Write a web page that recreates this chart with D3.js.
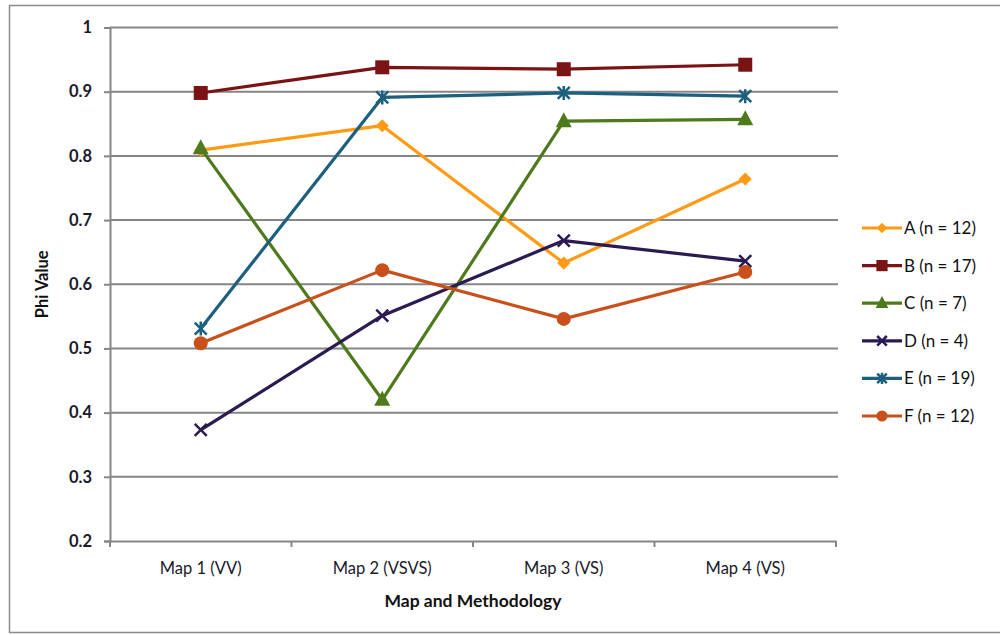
<!DOCTYPE html>
<html>
<head>
<meta charset="utf-8">
<script src="https://cdn.jsdelivr.net/npm/d3@7"></script>
<style>
  html, body { margin: 0; padding: 0; background: #fff; }
  svg { display: block; font-family: Lato, "Open Sans", sans-serif; }
</style>
</head>
<body>
<svg id="chart" width="1000" height="635"></svg>
<script>
// Phi values per map / methodology
const categories = ["Map 1 (VV)", "Map 2 (VSVS)", "Map 3 (VS)", "Map 4 (VS)"];
const seriesNames = ["A (n = 12)", "B (n = 17)", "C (n = 7)", "D (n = 4)", "E (n = 19)", "F (n = 12)"];
const valuesA = [0.809, 0.847, 0.633, 0.764];
const valuesB = [0.898, 0.938, 0.935, 0.942];
const valuesC = [0.812, 0.420, 0.854, 0.857];
const valuesD = [0.373, 0.551, 0.668, 0.636];
const valuesE = [0.531, 0.891, 0.898, 0.893];
const valuesF = [0.508, 0.622, 0.546, 0.619];
const yTicks = [0.2, 0.3, 0.4, 0.5, 0.6, 0.7, 0.8, 0.9, 1];

const colors = ["#ff9a14", "#7a1414", "#4e7a1c", "#2c1a52", "#1c5f7e", "#c9501a"];
const shapes = ["diamond", "square", "triangle", "x", "asterisk", "circle"];
const allValues = [valuesA, valuesB, valuesC, valuesD, valuesE, valuesF];

const series = seriesNames.map((name, i) => ({
  name, color: colors[i], shape: shapes[i],
  points: categories.map((c, j) => ({ cat: c, v: allValues[i][j] }))
}));

const svg = d3.select("#chart");
const margin = { left: 110, right: 836, top: 27.5, bottom: 541 };

// outer frame
svg.append("rect")
  .attr("x", 9.5).attr("y", 5.5).attr("width", 1000).attr("height", 627)
  .attr("fill", "none").attr("stroke", "#8c8c8c").attr("stroke-width", 1.5);

const x = d3.scaleBand().domain(categories).range([margin.left, margin.right]);
const y = d3.scaleLinear().domain([0.2, 1]).range([margin.bottom, margin.top]);

// horizontal gridlines
svg.append("g").selectAll("line")
  .data(yTicks.filter(t => t > 0.2))
  .join("line")
  .attr("x1", margin.left).attr("x2", margin.right + 2)
  .attr("y1", d => y(d)).attr("y2", d => y(d))
  .attr("stroke", "#868686").attr("stroke-width", 2);

// y axis
const yAxis = svg.append("g")
  .attr("transform", `translate(${margin.left},0)`)
  .call(d3.axisLeft(y).tickValues(yTicks).tickSize(6).tickPadding(12)
    .tickFormat(d => d === 1 ? "1" : d3.format(".1f")(d)));
yAxis.select(".domain").attr("stroke", "#868686").attr("stroke-width", 2);
yAxis.selectAll(".tick line").attr("stroke", "#868686").attr("stroke-width", 2);
yAxis.selectAll(".tick text")
  .attr("font-size", 16.5).attr("font-weight", "bold").attr("fill", "#1a1a2a")
  .attr("font-family", "Lato, sans-serif");

// x axis
const xAxis = svg.append("g")
  .attr("transform", `translate(0,${margin.bottom})`)
  .call(d3.axisBottom(x).tickSize(0).tickPadding(21));
xAxis.select(".domain").attr("stroke", "#868686").attr("stroke-width", 2);
xAxis.selectAll(".tick text")
  .attr("font-size", 16.5).attr("fill", "#1a1a2a").attr("font-family", "Lato, sans-serif");
// category boundary ticks
const bounds = categories.map(c => x(c)).concat([margin.right]);
xAxis.selectAll(".bound")
  .data(bounds).join("line").attr("class", "bound")
  .attr("x1", d => d).attr("x2", d => d).attr("y1", 0).attr("y2", 6)
  .attr("stroke", "#868686").attr("stroke-width", 2);

// axis titles
svg.append("text")
  .attr("x", (margin.left + margin.right) / 2).attr("y", 607)
  .attr("text-anchor", "middle").attr("font-size", 17.5).attr("font-weight", "bold")
  .attr("fill", "#111").text("Map and Methodology");
svg.append("text")
  .attr("transform", `translate(48,${(margin.top + margin.bottom) / 2}) rotate(-90)`)
  .attr("text-anchor", "middle").attr("font-size", 16.5).attr("font-weight", "bold")
  .attr("fill", "#111").text("Phi Value");

// marker drawing
function drawMarker(g, shape, color, k = 1) {
  if (shape === "diamond") {
    g.append("path").attr("d", d3.symbol(d3.symbolDiamond2, 110 * k * k)()).attr("fill", color);
  } else if (shape === "square") {
    g.append("rect").attr("x", -7 * k).attr("y", -7 * k)
      .attr("width", 14 * k).attr("height", 14 * k).attr("fill", color);
  } else if (shape === "triangle") {
    g.append("path").attr("d", `M0,${-9 * k}L${8 * k},${6 * k}L${-8 * k},${6 * k}Z`).attr("fill", color);
  } else if (shape === "circle") {
    g.append("circle").attr("r", 7 * k).attr("fill", color);
  } else if (shape === "x") {
    const a = 6 * k;
    g.append("path").attr("d", `M${-a},${-a}L${a},${a}M${-a},${a}L${a},${-a}`)
      .attr("stroke", color).attr("stroke-width", 2.5).attr("fill", "none");
  } else if (shape === "asterisk") {
    const a = 6 * k, b = 7 * k;
    g.append("path").attr("d", `M${-a},${-a}L${a},${a}M${-a},${a}L${a},${-a}M0,${-b}L0,${b}`)
      .attr("stroke", color).attr("stroke-width", 2.5).attr("fill", "none");
  }
}

const line = d3.line()
  .x(d => x(d.cat) + x.bandwidth() / 2)
  .y(d => y(d.v));

const lines = svg.append("g");
series.forEach(s => {
  const g = lines.append("g");
  g.append("path").datum(s.points)
    .attr("d", line).attr("fill", "none")
    .attr("stroke", s.color).attr("stroke-width", 3.2).attr("stroke-linejoin", "round");
  s.points.forEach(p => {
    const m = g.append("g")
      .attr("transform", `translate(${x(p.cat) + x.bandwidth() / 2},${y(p.v)})`);
    drawMarker(m, s.shape, s.color);
  });
});

// legend
const legend = svg.append("g");
series.forEach((s, i) => {
  const ly = 228 + i * 37.6;
  const g = legend.append("g").attr("transform", `translate(862,${ly})`);
  g.append("line").attr("x1", 0).attr("x2", 40).attr("y1", 0).attr("y2", 0)
    .attr("stroke", s.color).attr("stroke-width", 3.2);
  const m = g.append("g").attr("transform", "translate(20,0)");
  drawMarker(m, s.shape, s.color, 0.8);
  g.append("text").attr("x", 42).attr("y", 6)
    .attr("font-size", 17).attr("fill", "#111").text(s.name);
});
</script>
</body>
</html>
